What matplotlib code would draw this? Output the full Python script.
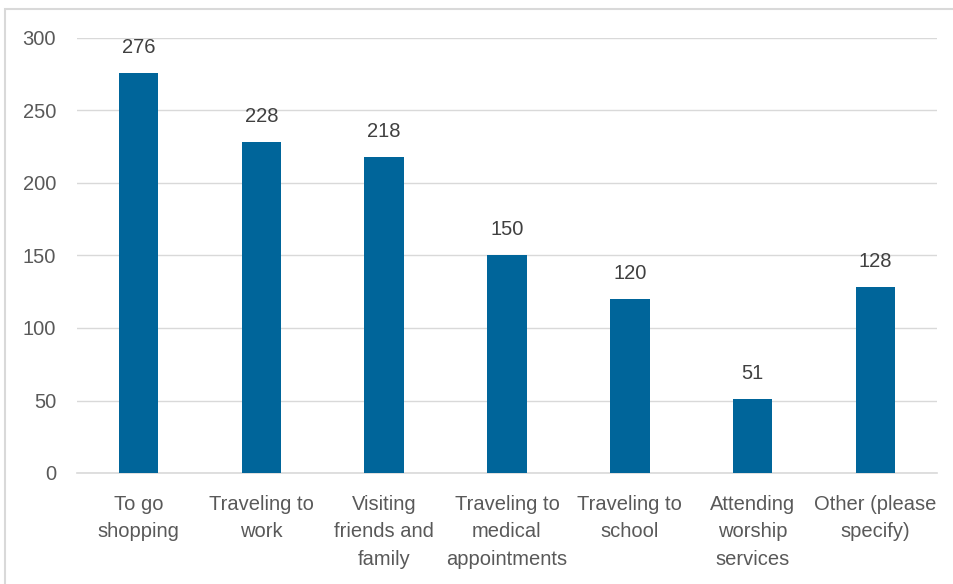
import matplotlib.pyplot as plt
from matplotlib.patches import Rectangle

categories = ['To go\nshopping', 'Traveling to\nwork', 'Visiting\nfriends and\nfamily',
              'Traveling to\nmedical\nappointments', 'Traveling to\nschool',
              'Attending\nworship\nservices', 'Other (please\nspecify)']
counts = [276, 228, 218, 150, 120, 51, 128]
yticks = [0, 50, 100, 150, 200, 250, 300]

plt.rcParams['font.family'] = ['Liberation Sans', 'DejaVu Sans']

fig = plt.figure(figsize=(9.54, 5.84), dpi=100)
ax = fig.add_axes([77 / 954, 1 - 473 / 584, 860 / 954, 435 / 584])

x = range(len(categories))
ax.bar(x, counts, width=0.32, color='#00659A', zorder=3)
for xi, v in zip(x, counts):
    ax.annotate(str(v), (xi, v), xytext=(0, 18.5), textcoords='offset points',
                ha='center', va='center', fontsize=14.5, color='#404040')

ax.set_xlim(-0.5, len(categories) - 0.5)
ax.set_ylim(0, 300)
ax.set_yticks(yticks)
ax.set_xticks(list(x))
ax.set_xticklabels(categories, fontsize=14.5, color='#595959', linespacing=1.57)
ax.tick_params(axis='y', labelsize=14.5, labelcolor='#595959', length=0, pad=15)
ax.tick_params(axis='x', length=0, pad=15.5)
ax.yaxis.grid(True, color='#D9D9D9', linewidth=1, zorder=0)
for s in ['top', 'right', 'left']:
    ax.spines[s].set_visible(False)
ax.spines['bottom'].set_color('#D9D9D9')
ax.spines['bottom'].set_linewidth(1.2)

# chart frame: only top and left edges fall inside the picture
fig.patches.append(Rectangle((5.5 / 954, -0.02), 1.0, 1 - 8.5 / 584 + 0.02, transform=fig.transFigure,
                             fill=False, edgecolor='#D9D9D9', linewidth=1.5))

fig.savefig('out.png', dpi=100)
